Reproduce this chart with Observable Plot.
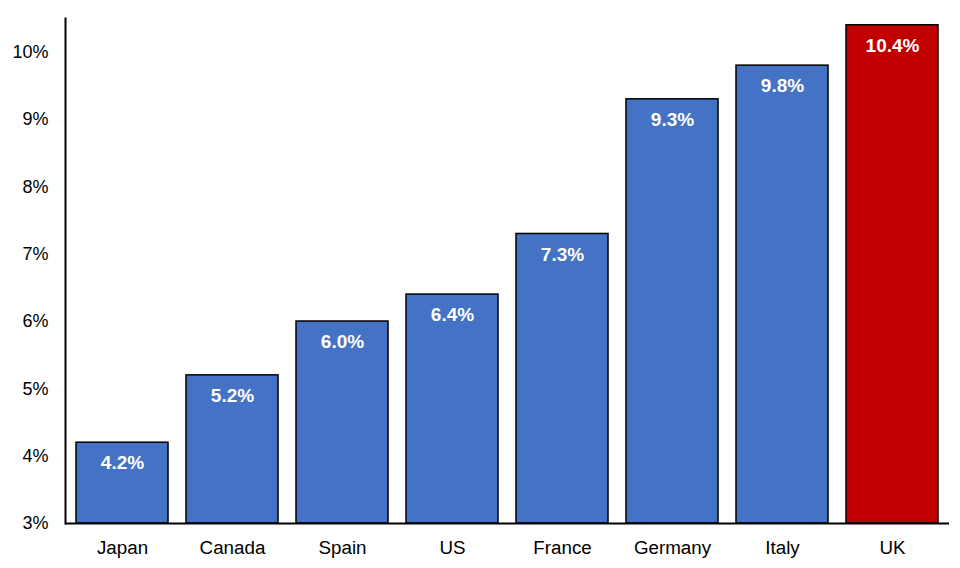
<!DOCTYPE html>
<html>
<head>
<meta charset="utf-8">
<script src="https://cdn.jsdelivr.net/npm/d3@7"></script>
<script src="https://cdn.jsdelivr.net/npm/@observablehq/plot@0.6"></script>
<style>
  html, body { margin: 0; padding: 0; background: #fff; }
  #chart svg { display: block; }
</style>
</head>
<body>
<div id="chart"></div>
<script>
const countries = ["Japan", "Canada", "Spain", "US", "France", "Germany", "Italy", "UK"];
const values = [4.2, 5.2, 6.0, 6.4, 7.3, 9.3, 9.8, 10.4];
const barColors = ["#4472C4", "#4472C4", "#4472C4", "#4472C4", "#4472C4", "#4472C4", "#4472C4", "#C00000"];
const yTicks = [3, 4, 5, 6, 7, 8, 9, 10];

const data = countries.map((c, i) => ({country: c, value: values[i], color: barColors[i]}));

const font = "'Liberation Sans', Arial, Helvetica, sans-serif";

const plot = Plot.plot({
  width: 960,
  height: 568,
  marginLeft: 65,
  marginRight: 11,
  marginTop: 18,
  marginBottom: 45,
  style: {fontFamily: font, fontSize: "18px", color: "#000", background: "#fff"},
  x: {domain: countries, paddingInner: 0.165, paddingOuter: 0.09, label: null},
  y: {domain: [3, 10.5], label: null},
  marks: [
    Plot.barY(data, {x: "country", y1: 3, y2: "value", fill: "color", stroke: "#000", strokeWidth: 1.5}),
    Plot.text(data, {x: "country", y: "value", text: d => d.value.toFixed(1) + "%", dy: 20.5, fill: "#fff", fontWeight: "bold", fontSize: 19}),
    Plot.axisY({ticks: yTicks, tickFormat: d => d + "%", tickSize: 0, tickPadding: 17, fontSize: 18, label: null}),
    Plot.axisX({tickSize: 0, tickPadding: 17, fontSize: 18.8, label: null}),
    Plot.ruleY([3], {stroke: "#000", strokeWidth: 2}),
    Plot.frame({anchor: "left", stroke: "#000", strokeWidth: 2})
  ]
});
document.getElementById("chart").appendChild(plot);
</script>
</body>
</html>
